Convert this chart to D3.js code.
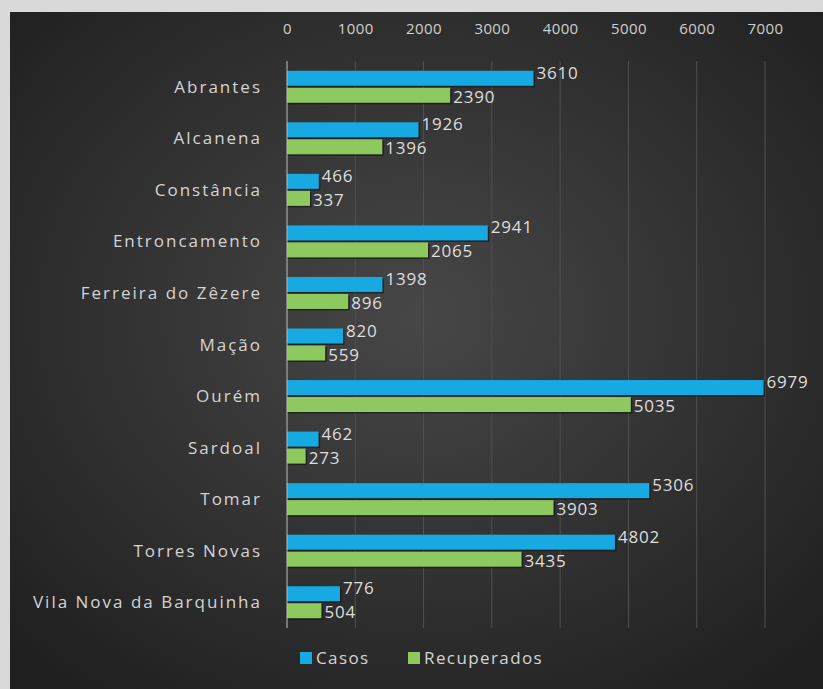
<!DOCTYPE html>
<meta charset="utf-8">
<title>Casos e Recuperados</title>
<style>
  body { margin: 0; background: #d9d9d9; }
  svg { display: block; }
</style>
<div id="viz"></div>
<script src="https://cdnjs.cloudflare.com/ajax/libs/d3/7.8.5/d3.min.js"></script>
<script>

var concelhos = ["Abrantes", "Alcanena", "Constância", "Entroncamento", "Ferreira do Zêzere",
  "Mação", "Ourém", "Sardoal", "Tomar", "Torres Novas", "Vila Nova da Barquinha"];
var casos = [3610, 1926, 466, 2941, 1398, 820, 6979, 462, 5306, 4802, 776];
var recuperados = [2390, 1396, 337, 2065, 896, 559, 5035, 273, 3903, 3435, 504];
var series = ["Casos", "Recuperados"];
var ticks = [0, 1000, 2000, 3000, 4000, 5000, 6000, 7000];

var width = 823, height = 689;
var font = "'Open Sans', sans-serif";

var svg = d3.select("#viz").append("svg")
    .attr("width", width)
    .attr("height", height);

var defs = svg.append("defs");
var grad = defs.append("radialGradient")
    .attr("id", "bg")
    .attr("cx", "50%").attr("cy", "45%").attr("r", "70%");
grad.append("stop").attr("offset", "0%").attr("stop-color", "#474747");
grad.append("stop").attr("offset", "100%").attr("stop-color", "#1f1f1f");

svg.append("rect")
    .attr("x", 10).attr("y", 12)
    .attr("width", width - 10).attr("height", height - 12)
    .attr("fill", "url(#bg)");

var x = d3.scaleLinear().domain([0, 7000]).range([287, 765]);
var y = d3.scaleBand().domain(concelhos).range([61, 628]);
var colors = {Casos: "#17a9e1", Recuperados: "#8ec95f"};

// gridlines
svg.append("g")
  .selectAll("line")
  .data(ticks.slice(1))
  .join("line")
    .attr("x1", d => x(d)).attr("x2", d => x(d))
    .attr("y1", 61).attr("y2", 628)
    .attr("stroke", "#505050")
    .attr("stroke-width", 1);

// top axis labels
var xAxis = svg.append("g")
    .attr("transform", "translate(0,34)")
    .call(d3.axisTop(x).tickValues(ticks).tickFormat(d3.format("d")).tickSize(0).tickPadding(0));
xAxis.select(".domain").remove();
xAxis.selectAll("text")
    .attr("fill", "#cfcfcf")
    .style("font-family", font)
    .style("font-size", "15px")
    .style("letter-spacing", "0.4px");

// bars
var rows = concelhos.map((c, i) => ({name: c, Casos: casos[i], Recuperados: recuperados[i]}));
var barH = 15;

var g = svg.append("g");
rows.forEach(function(r) {
  var y0 = y(r.name) + y.bandwidth() / 2;
  series.forEach(function(s, k) {
    var top = k === 0 ? y0 - barH - 1 : y0 + 1;
    g.append("rect")
      .attr("x", x(0)).attr("y", top + 1.5)
      .attr("width", x(r[s]) - x(0) + 1.5).attr("height", barH)
      .attr("fill", "#111").attr("opacity", 0.6);
    g.append("rect")
      .attr("x", x(0)).attr("y", top)
      .attr("width", x(r[s]) - x(0)).attr("height", barH)
      .attr("fill", colors[s]);
    g.append("text")
      .attr("x", x(r[s]) + 3)
      .attr("y", k === 0 ? top + 8 : top + 15)
      .attr("fill", "#dedede")
      .style("font-family", font)
      .style("font-size", "17px")
      .style("letter-spacing", "0.8px")
      .text(r[s]);
  });
});

// left axis
svg.append("line")
    .attr("x1", x(0)).attr("x2", x(0))
    .attr("y1", 61).attr("y2", 628)
    .attr("stroke", "#bdbdbd");

svg.append("g")
  .selectAll("text")
  .data(concelhos)
  .join("text")
    .attr("x", 262)
    .attr("y", d => y(d) + y.bandwidth() / 2 + 6)
    .attr("text-anchor", "end")
    .attr("fill", "#d4d4d4")
    .style("font-family", font)
    .style("font-size", "17px")
    .style("letter-spacing", "2px")
    .text(d => d);

// legend
var leg = svg.append("g").attr("transform", "translate(300,658)");
var lx = [0, 108];
series.forEach(function(s, i) {
  leg.append("rect")
    .attr("x", lx[i]).attr("y", -6)
    .attr("width", 12).attr("height", 12)
    .attr("fill", colors[s]);
  leg.append("text")
    .attr("x", lx[i] + 16).attr("y", 6)
    .attr("fill", "#d4d4d4")
    .style("font-family", font)
    .style("font-size", "17px")
    .style("letter-spacing", "1.4px")
    .text(s);
});

</script>
